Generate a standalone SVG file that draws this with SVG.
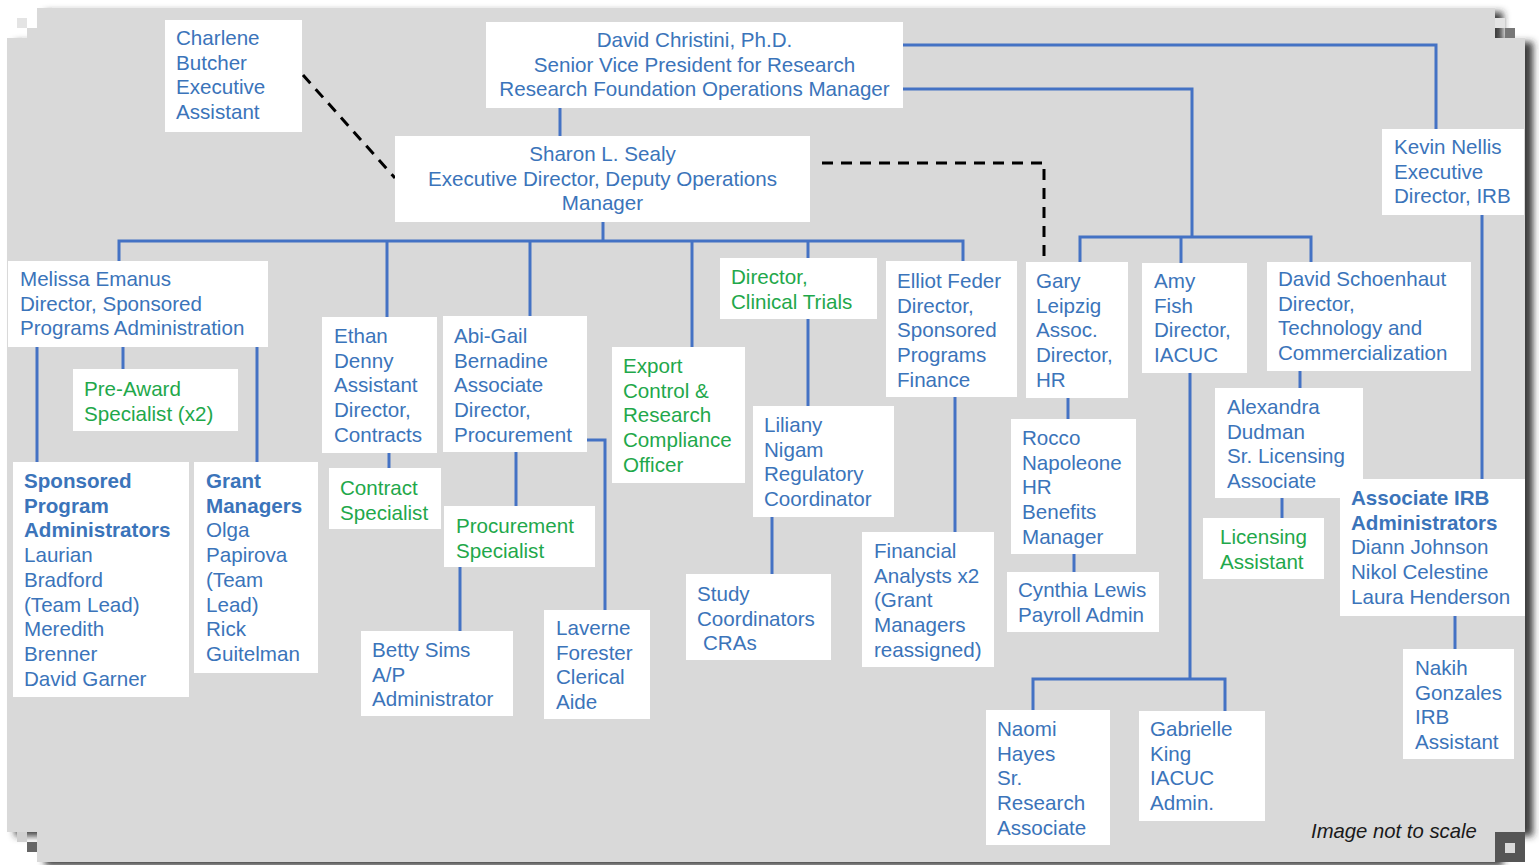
<svg xmlns="http://www.w3.org/2000/svg" width="1539" height="865" viewBox="0 0 1539 865">
<defs>
<filter id="sh" x="-5%" y="-5%" width="110%" height="110%">
<feDropShadow dx="8" dy="4" stdDeviation="3.5" flood-color="#2a2a2a" flood-opacity="0.9"/>
</filter>
</defs>
<style>
.box{fill:#ffffff}
.t{font-family:"Liberation Sans",Arial,sans-serif;font-size:20.6px;fill:#3b74ba}
.g{fill:#1fa84b}
.b{font-weight:bold}
.c{fill:none;stroke:#4472c4;stroke-width:3}
.d{fill:none;stroke:#000000;stroke-width:3;stroke-dasharray:11 8}
.note{font-family:"Liberation Sans",Arial,sans-serif;font-size:20.3px;font-style:italic;fill:#1a1a1a}
</style>
<rect x="0" y="0" width="1539" height="865" fill="#ffffff"/>
<path d="M37,8 H1495 V38 H1525 V832 H1495 V862 H37 V832 H7 V38 H37 Z" fill="#d9d9d9" filter="url(#sh)"/>
<rect x="1495" y="832" width="30" height="30" fill="#555555"/>
<rect x="1505" y="843" width="10" height="10" fill="#d9d9d9"/>
<rect x="17" y="18" width="10" height="10" fill="#e4e4e4"/>
<rect x="27" y="28" width="10" height="10" fill="#d9d9d9"/>
<rect x="1495" y="18" width="10" height="10" fill="#e4e4e4"/>
<rect x="1505" y="28" width="10" height="10" fill="#777777"/>
<rect x="17" y="832" width="10" height="10" fill="#d0d0d0"/>
<rect x="27" y="842" width="10" height="10" fill="#666666"/>
<g id="connectors">
<path class="c" d="M560,108 V136"/>
<path class="c" d="M903,45 H1436 V129"/>
<path class="c" d="M903,89 H1192 V237"/>
<path class="c" d="M1080,262 V237 H1311 V262"/>
<path class="c" d="M1181,237 V263"/>
<path class="c" d="M603,222 V241"/>
<path class="c" d="M119,261 V241 H963 V261"/>
<path class="c" d="M387,241 V317"/>
<path class="c" d="M530,241 V316"/>
<path class="c" d="M692,241 V347"/>
<path class="c" d="M808,241 V258"/>
<path class="c" d="M37,347 V462"/>
<path class="c" d="M123,347 V369"/>
<path class="c" d="M257,347 V462"/>
<path class="c" d="M389,453 V468"/>
<path class="c" d="M516,452 V506"/>
<path class="c" d="M460,567 V631"/>
<path class="c" d="M587,440 H605 V610"/>
<path class="c" d="M808,319 V406"/>
<path class="c" d="M772,517 V574"/>
<path class="c" d="M955,397 V532"/>
<path class="c" d="M1068,398 V419"/>
<path class="c" d="M1074,554 V572"/>
<path class="c" d="M1190,373 V679"/>
<path class="c" d="M1033,710 V679 H1225 V711"/>
<path class="c" d="M1300,371 V388"/>
<path class="c" d="M1282,498 V518"/>
<path class="c" d="M1482,215 V479"/>
<path class="c" d="M1455,616 V649"/>
<path class="d" d="M303,75 L395,178"/>
<path class="d" d="M822,163 H1044 V262"/>
</g>
<g id="charlene"><rect class="box" x="165" y="20" width="137" height="112"/>
<text class="t" x="176" y="45"><tspan x="176">Charlene</tspan><tspan x="176" dy="24.7">Butcher</tspan><tspan x="176" dy="24.7">Executive</tspan><tspan x="176" dy="24.7">Assistant</tspan></text></g>
<g id="christini"><rect class="box" x="486" y="22" width="417" height="86"/>
<text class="t" text-anchor="middle" x="694.5" y="47"><tspan x="694.5">David Christini, Ph.D.</tspan><tspan x="694.5" dy="24.7">Senior Vice President for Research</tspan><tspan x="694.5" dy="24.7">Research Foundation Operations Manager</tspan></text></g>
<g id="sealy"><rect class="box" x="395" y="136" width="415" height="86"/>
<text class="t" text-anchor="middle" x="602.5" y="161"><tspan x="602.5">Sharon L. Sealy</tspan><tspan x="602.5" dy="24.7">Executive Director, Deputy Operations</tspan><tspan x="602.5" dy="24.7">Manager</tspan></text></g>
<g id="nellis"><rect class="box" x="1382" y="129" width="142" height="86"/>
<text class="t" x="1394" y="154"><tspan x="1394">Kevin Nellis</tspan><tspan x="1394" dy="24.7">Executive</tspan><tspan x="1394" dy="24.7">Director, IRB</tspan></text></g>
<g id="emanus"><rect class="box" x="8" y="261" width="260" height="86"/>
<text class="t" x="20" y="286"><tspan x="20">Melissa Emanus</tspan><tspan x="20" dy="24.7">Director, Sponsored</tspan><tspan x="20" dy="24.7">Programs Administration</tspan></text></g>
<g id="preaward"><rect class="box" x="73" y="369" width="165" height="62"/>
<text class="t g" x="84" y="396"><tspan x="84">Pre-Award</tspan><tspan x="84" dy="24.7">Specialist (x2)</tspan></text></g>
<g id="spa"><rect class="box" x="13" y="462" width="176" height="235"/>
<text class="t" x="24" y="488"><tspan x="24" class="b">Sponsored</tspan><tspan x="24" dy="24.7" class="b">Program</tspan><tspan x="24" dy="24.7" class="b">Administrators</tspan><tspan x="24" dy="24.7">Laurian</tspan><tspan x="24" dy="24.7">Bradford</tspan><tspan x="24" dy="24.7">(Team Lead)</tspan><tspan x="24" dy="24.7">Meredith</tspan><tspan x="24" dy="24.7">Brenner</tspan><tspan x="24" dy="24.7">David Garner</tspan></text></g>
<g id="grants"><rect class="box" x="194" y="462" width="124" height="211"/>
<text class="t" x="206" y="488"><tspan x="206" class="b">Grant</tspan><tspan x="206" dy="24.7" class="b">Managers</tspan><tspan x="206" dy="24.7">Olga</tspan><tspan x="206" dy="24.7">Papirova</tspan><tspan x="206" dy="24.7">(Team</tspan><tspan x="206" dy="24.7">Lead)</tspan><tspan x="206" dy="24.7">Rick</tspan><tspan x="206" dy="24.7">Guitelman</tspan></text></g>
<g id="denny"><rect class="box" x="322" y="317" width="115" height="136"/>
<text class="t" x="334" y="343"><tspan x="334">Ethan</tspan><tspan x="334" dy="24.7">Denny</tspan><tspan x="334" dy="24.7">Assistant</tspan><tspan x="334" dy="24.7">Director,</tspan><tspan x="334" dy="24.7">Contracts</tspan></text></g>
<g id="contract"><rect class="box" x="329" y="468" width="112" height="61"/>
<text class="t g" x="340" y="495"><tspan x="340">Contract</tspan><tspan x="340" dy="24.7">Specialist</tspan></text></g>
<g id="bernadine"><rect class="box" x="443" y="316" width="144" height="136"/>
<text class="t" x="454" y="343"><tspan x="454">Abi-Gail</tspan><tspan x="454" dy="24.7">Bernadine</tspan><tspan x="454" dy="24.7">Associate</tspan><tspan x="454" dy="24.7">Director,</tspan><tspan x="454" dy="24.7">Procurement</tspan></text></g>
<g id="procurement"><rect class="box" x="444" y="506" width="151" height="61"/>
<text class="t g" x="456" y="533"><tspan x="456">Procurement</tspan><tspan x="456" dy="24.7">Specialist</tspan></text></g>
<g id="sims"><rect class="box" x="361" y="631" width="152" height="85"/>
<text class="t" x="372" y="657"><tspan x="372">Betty Sims</tspan><tspan x="372" dy="24.7">A/P</tspan><tspan x="372" dy="24.7">Administrator</tspan></text></g>
<g id="forester"><rect class="box" x="544" y="610" width="106" height="109"/>
<text class="t" x="556" y="635"><tspan x="556">Laverne</tspan><tspan x="556" dy="24.7">Forester</tspan><tspan x="556" dy="24.7">Clerical</tspan><tspan x="556" dy="24.7">Aide</tspan></text></g>
<g id="export"><rect class="box" x="612" y="347" width="133" height="136"/>
<text class="t g" x="623" y="373"><tspan x="623">Export</tspan><tspan x="623" dy="24.7">Control &amp;</tspan><tspan x="623" dy="24.7">Research</tspan><tspan x="623" dy="24.7">Compliance</tspan><tspan x="623" dy="24.7">Officer</tspan></text></g>
<g id="clinical"><rect class="box" x="720" y="258" width="157" height="61"/>
<text class="t g" x="731" y="284"><tspan x="731">Director,</tspan><tspan x="731" dy="24.7">Clinical Trials</tspan></text></g>
<g id="nigam"><rect class="box" x="753" y="406" width="141" height="111"/>
<text class="t" x="764" y="432"><tspan x="764">Liliany</tspan><tspan x="764" dy="24.7">Nigam</tspan><tspan x="764" dy="24.7">Regulatory</tspan><tspan x="764" dy="24.7">Coordinator</tspan></text></g>
<g id="study"><rect class="box" x="686" y="574" width="145" height="86"/>
<text class="t" x="697" y="601"><tspan x="697">Study</tspan><tspan x="697" dy="24.7">Coordinators</tspan><tspan x="703" dy="24.7">CRAs</tspan></text></g>
<g id="feder"><rect class="box" x="886" y="261" width="131" height="136"/>
<text class="t" x="897" y="288"><tspan x="897">Elliot Feder</tspan><tspan x="897" dy="24.7">Director,</tspan><tspan x="897" dy="24.7">Sponsored</tspan><tspan x="897" dy="24.7">Programs</tspan><tspan x="897" dy="24.7">Finance</tspan></text></g>
<g id="financial"><rect class="box" x="862" y="532" width="132" height="135"/>
<text class="t" x="874" y="558"><tspan x="874">Financial</tspan><tspan x="874" dy="24.7">Analysts x2</tspan><tspan x="874" dy="24.7">(Grant</tspan><tspan x="874" dy="24.7">Managers</tspan><tspan x="874" dy="24.7">reassigned)</tspan></text></g>
<g id="leipzig"><rect class="box" x="1026" y="262" width="102" height="136"/>
<text class="t" x="1036" y="288"><tspan x="1036">Gary</tspan><tspan x="1036" dy="24.7">Leipzig</tspan><tspan x="1036" dy="24.7">Assoc.</tspan><tspan x="1036" dy="24.7">Director,</tspan><tspan x="1036" dy="24.7">HR</tspan></text></g>
<g id="napoleone"><rect class="box" x="1011" y="419" width="125" height="135"/>
<text class="t" x="1022" y="445"><tspan x="1022">Rocco</tspan><tspan x="1022" dy="24.7">Napoleone</tspan><tspan x="1022" dy="24.7">HR</tspan><tspan x="1022" dy="24.7">Benefits</tspan><tspan x="1022" dy="24.7">Manager</tspan></text></g>
<g id="lewis"><rect class="box" x="1007" y="572" width="152" height="60"/>
<text class="t" x="1018" y="597"><tspan x="1018">Cynthia Lewis</tspan><tspan x="1018" dy="24.7">Payroll Admin</tspan></text></g>
<g id="fish"><rect class="box" x="1142" y="263" width="105" height="110"/>
<text class="t" x="1154" y="288"><tspan x="1154">Amy</tspan><tspan x="1154" dy="24.7">Fish</tspan><tspan x="1154" dy="24.7">Director,</tspan><tspan x="1154" dy="24.7">IACUC</tspan></text></g>
<g id="hayes"><rect class="box" x="986" y="710" width="124" height="135"/>
<text class="t" x="997" y="736"><tspan x="997">Naomi</tspan><tspan x="997" dy="24.7">Hayes</tspan><tspan x="997" dy="24.7">Sr.</tspan><tspan x="997" dy="24.7">Research</tspan><tspan x="997" dy="24.7">Associate</tspan></text></g>
<g id="king"><rect class="box" x="1139" y="711" width="126" height="110"/>
<text class="t" x="1150" y="736"><tspan x="1150">Gabrielle</tspan><tspan x="1150" dy="24.7">King</tspan><tspan x="1150" dy="24.7">IACUC</tspan><tspan x="1150" dy="24.7">Admin.</tspan></text></g>
<g id="schoenhaut"><rect class="box" x="1267" y="262" width="204" height="109"/>
<text class="t" x="1278" y="286"><tspan x="1278">David Schoenhaut</tspan><tspan x="1278" dy="24.7">Director,</tspan><tspan x="1278" dy="24.7">Technology and</tspan><tspan x="1278" dy="24.7">Commercialization</tspan></text></g>
<g id="dudman"><rect class="box" x="1215" y="388" width="148" height="110"/>
<text class="t" x="1227" y="414"><tspan x="1227">Alexandra</tspan><tspan x="1227" dy="24.7">Dudman</tspan><tspan x="1227" dy="24.7">Sr. Licensing</tspan><tspan x="1227" dy="24.7">Associate</tspan></text></g>
<g id="licensing"><rect class="box" x="1203" y="518" width="121" height="61"/>
<text class="t g" x="1220" y="544"><tspan x="1220">Licensing</tspan><tspan x="1220" dy="24.7">Assistant</tspan></text></g>
<g id="irbadmins"><rect class="box" x="1340" y="479" width="185" height="137"/>
<text class="t" x="1351" y="505"><tspan x="1351" class="b">Associate IRB</tspan><tspan x="1351" dy="24.7" class="b">Administrators</tspan><tspan x="1351" dy="24.7">Diann Johnson</tspan><tspan x="1351" dy="24.7">Nikol Celestine</tspan><tspan x="1351" dy="24.7">Laura Henderson</tspan></text></g>
<g id="gonzales"><rect class="box" x="1403" y="649" width="111" height="110"/>
<text class="t" x="1415" y="675"><tspan x="1415">Nakih</tspan><tspan x="1415" dy="24.7">Gonzales</tspan><tspan x="1415" dy="24.7">IRB</tspan><tspan x="1415" dy="24.7">Assistant</tspan></text></g>
<text class="note" x="1311" y="838">Image not to scale</text>
</svg>
